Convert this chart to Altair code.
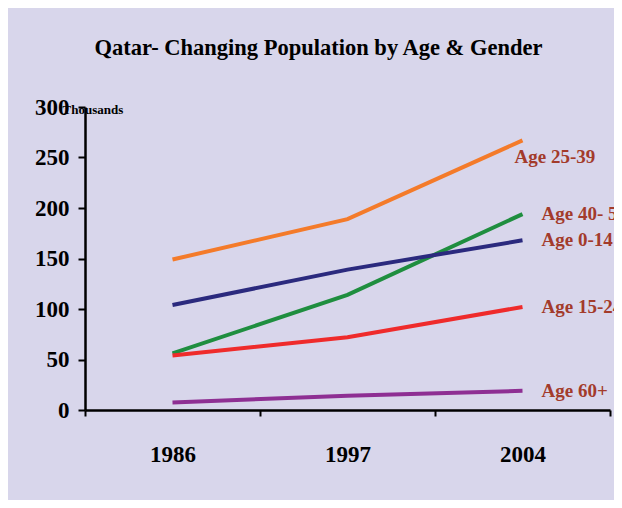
import altair as alt
import pandas as pd

years = ["1986", "1997", "2004"]
groups = ["Age 25-39", "Age 40- 59", "Age 0-14", "Age 15-24", "Age 60+"]
values = {
    "Age 25-39": [149, 189, 267],
    "Age 40- 59": [56, 114, 194],
    "Age 0-14": [104, 139, 168],
    "Age 15-24": [54, 72, 102],
    "Age 60+": [7.5, 14, 19],
}
colors = ["#f47b2a", "#1f8e3f", "#2b2a7e", "#ef2b2b", "#8e2f93"]

rows = []
for g in groups:
    for y, v in zip(years, values[g]):
        rows.append({"year": y, "group": g, "value": v})
df = pd.DataFrame(rows)
last = df[df["year"] == years[-1]]

SERIF = "Liberation Serif"

x_enc = alt.X(
    "year:O",
    sort=years,
    bandPosition=0.5,
    scale=alt.Scale(type="band", paddingInner=0, paddingOuter=0),
    axis=alt.Axis(
        title=None, labelAngle=0, tickBand="extent", tickSize=6, labelPadding=27,
        labelFont=SERIF, labelFontWeight="bold", labelFontSize=23, labelColor="black",
        domainColor="black", domainWidth=2.5, tickColor="black", tickWidth=2,
    ),
)
y_enc = alt.Y(
    "value:Q",
    scale=alt.Scale(domain=[0, 300], nice=False),
    axis=alt.Axis(
        values=[0, 50, 100, 150, 200, 250, 300], grid=False,
        title="Thousands", titleAngle=0, titleAlign="left", titleBaseline="middle",
        titleX=-23, titleY=2, titleFont=SERIF, titleFontWeight="bold", titleFontSize=13,
        titleColor="black",
        labelFont=SERIF, labelFontWeight="bold", labelFontSize=23, labelColor="black",
        labelPadding=9, tickSize=7, tickWidth=2, tickColor="black",
        domainColor="black", domainWidth=2.5,
    ),
)
color_enc = alt.Color("group:N", scale=alt.Scale(domain=groups, range=colors), legend=None)

lines = alt.Chart(df).mark_line(strokeWidth=4).encode(x=x_enc, y=y_enc, color=color_enc, detail="group:N")

lab_style = dict(font=SERIF, fontWeight="bold", fontSize=19, color="#a33b2b", align="left", baseline="middle")
lab1 = alt.Chart(last).transform_filter(alt.datum.group == groups[0]).mark_text(dx=-8, dy=17, **lab_style).encode(
    x=alt.X("year:O", sort=years, bandPosition=0.5), y="value:Q", text="group:N")
lab2 = alt.Chart(last).transform_filter(alt.datum.group != groups[0]).mark_text(dx=19, dy=0, **lab_style).encode(
    x=alt.X("year:O", sort=years, bandPosition=0.5), y="value:Q", text="group:N")

chart = alt.layer(lines, lab1, lab2).properties(
    width=525, height=303,
    title=alt.TitleParams("Qatar- Changing Population by Age & Gender", font=SERIF, fontWeight="bold",
                          fontSize=22.5, color="black", anchor="middle", dx=-29, offset=37),
    autosize=alt.AutoSizeParams(type="none"),
    padding={"left": 77, "top": 99, "right": 4, "bottom": 90},
    background="#d8d6eb",
).configure_view(stroke=None)

chart.save("out.html", embed_options={"renderer": "svg", "actions": False})
